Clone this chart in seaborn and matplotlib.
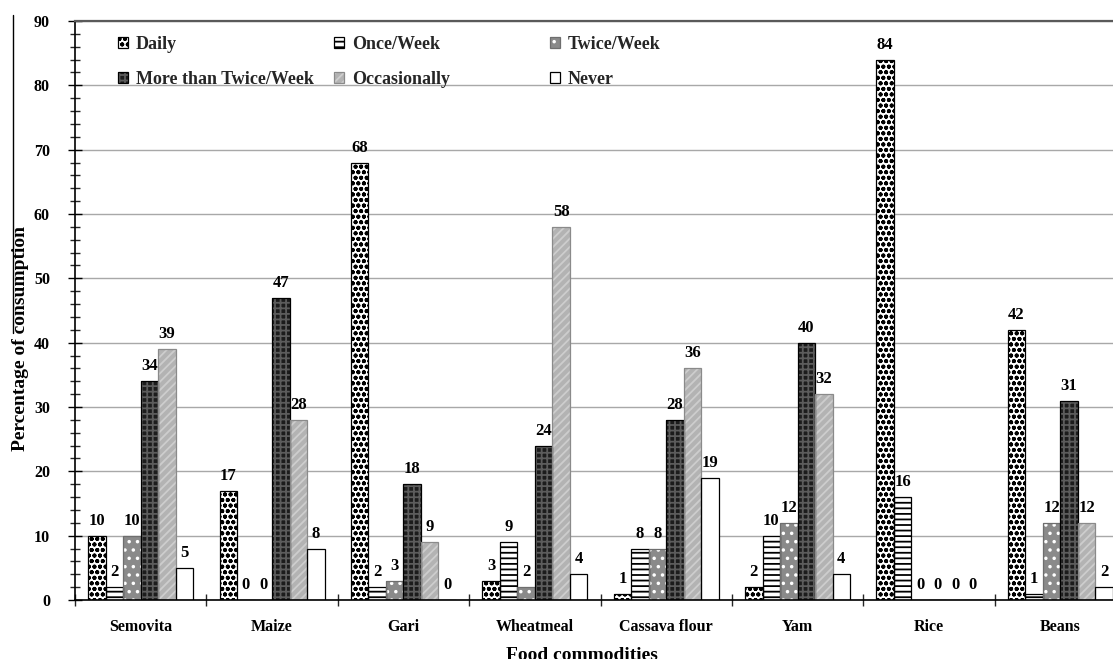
import pandas as pd
import matplotlib.pyplot as plt
import seaborn as sns
from matplotlib.patches import Patch, Rectangle
from matplotlib.lines import Line2D
from matplotlib.ticker import MultipleLocator, FixedLocator

# data (percent)
foods = ['Semovita', 'Maize', 'Gari', 'Wheatmeal', 'Cassava flour', 'Yam', 'Rice', 'Beans']
freqs = ['Daily', 'Once/Week', 'Twice/Week', 'More than Twice/Week', 'Occasionally', 'Never']
daily = [10, 17, 68, 3, 1, 2, 84, 42]
once_week = [2, 0, 2, 9, 8, 10, 16, 1]
twice_week = [10, 0, 3, 2, 8, 12, 0, 12]
more_twice = [34, 47, 18, 24, 28, 40, 0, 31]
occasionally = [39, 28, 9, 58, 36, 32, 0, 12]
never = [5, 8, 0, 4, 19, 4, 0, 2]

series = [daily, once_week, twice_week, more_twice, occasionally, never]
rows = []
for f, vals in zip(freqs, series):
    for food, v in zip(foods, vals):
        rows.append({'Food': food, 'Freq': f, 'Pct': v})
df = pd.DataFrame(rows)

# fill colour, hatch, hatch colour, outline colour
styles = [
    ('white', 'ooo', 'black', 'black'),
    ('white', '---', 'black', 'black'),
    ('#8a8a8a', '..', 'white', '#6e6e6e'),
    ('#1c1c1c', '+++', '#5c5c5c', 'black'),
    ('#b3b3b3', '////', '#cdcdcd', '#8a8a8a'),
    ('white', '', 'black', 'black'),
]

sns.set_theme(style='white')
plt.rcParams['font.family'] = ['Liberation Serif', 'DejaVu Serif']
plt.rcParams['font.weight'] = 'bold'
plt.rcParams['axes.labelweight'] = 'bold'
plt.rcParams['hatch.linewidth'] = 1.3

fig = plt.figure(figsize=(11.13, 6.59), dpi=100)
ax = fig.add_axes([75 / 1113, 59 / 659, 1051 / 1113, 579 / 659])

sns.barplot(data=df, x='Food', y='Pct', hue='Freq', order=foods, hue_order=freqs,
            width=0.8, saturation=1, errorbar=None, legend=False, ax=ax)

handles = []
for cont, (fc, hatch, hc, oc) in zip(ax.containers, styles):
    for p in cont.patches:
        p.set_facecolor(fc)
        p.set_hatch(hatch)
        p.set_edgecolor(hc)
        p.set_linewidth(0)
        ax.add_patch(Rectangle((p.get_x(), p.get_y()), p.get_width(), p.get_height(),
                               fill=False, ec=oc, lw=0.9, zorder=p.get_zorder() + 0.1))
    ax.bar_label(cont, fmt='%g', padding=5, fontsize=12, fontweight='bold', color='black')
    handles.append((Patch(facecolor=fc, hatch=hatch, edgecolor=hc, lw=0),
                    Patch(fill=False, edgecolor=oc, lw=0.9)))

ax.set_ylim(0, 90)
ax.set_xlim(-0.5, 7.5)
ax.yaxis.set_major_locator(MultipleLocator(10))
ax.yaxis.set_minor_locator(MultipleLocator(2))
ax.xaxis.set_minor_locator(FixedLocator([i + 0.5 for i in range(-1, 8)]))
ax.tick_params(axis='y', which='major', direction='inout', length=10, width=1,
               left=True, labelsize=11.5, pad=13, colors='black')
ax.tick_params(axis='y', which='minor', direction='inout', length=7, width=1, left=True)
ax.tick_params(axis='x', which='major', length=0, labelsize=11.5, pad=14, colors='black')
ax.tick_params(axis='x', which='minor', direction='inout', length=9, width=1, bottom=True)

ax.grid(axis='y', which='major', color='#a8a8a8', lw=1)
ax.set_axisbelow(True)
for side in ['left', 'bottom']:
    ax.spines[side].set_color('black')
    ax.spines[side].set_linewidth(1.2)
ax.spines['top'].set_color('#5a5a5a')
ax.spines['top'].set_linewidth(1.6)
ax.spines['right'].set_visible(False)

ax.set_xlabel('Food commodities', fontsize=14, fontweight='bold', color='black', va='center')
ax.xaxis.set_label_coords(0.482, -0.095)
ax.set_ylabel('Percentage of consumption', fontsize=14, fontweight='bold', color='black', va='center')
ax.yaxis.set_label_coords(-0.0523, 0.4525)

# legend drawn as three columns of two entries
col_x = [118, 334, 550]
for c in range(3):
    idx = [c, c + 3]
    fig.legend([handles[i] for i in idx], [freqs[i] for i in idx],
               loc='upper left', bbox_to_anchor=(col_x[c] / 1113, 1 - 36 / 659),
               frameon=False, ncol=1, handlelength=0.55, handleheight=0.55,
               handletextpad=0.45, labelspacing=1.0, borderpad=0, borderaxespad=0,
               prop={'weight': 'bold', 'size': 13})

# stray rule at the left edge of the original figure
fig.add_artist(Line2D([13 / 1113, 13 / 1113], [1 - 15 / 659, 1 - 333 / 659],
                      color='black', lw=1))

fig.savefig('out.png', dpi=100)
